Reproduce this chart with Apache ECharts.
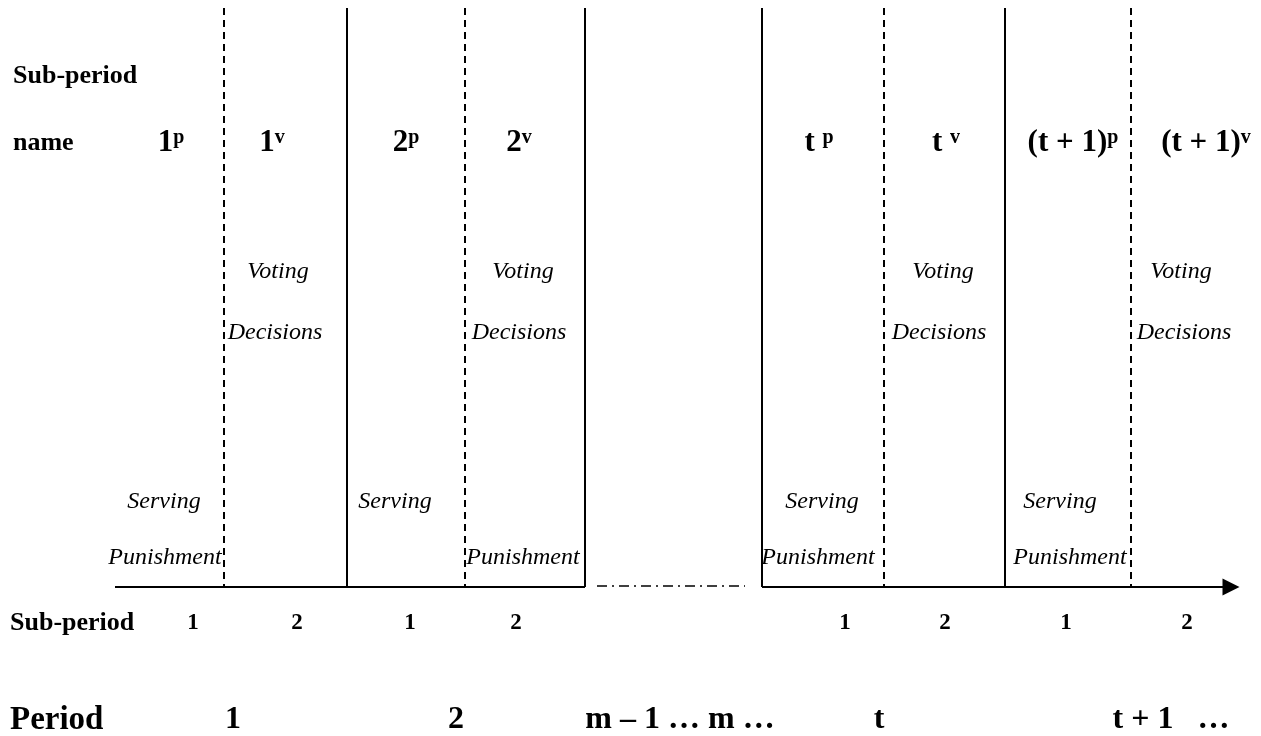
<!DOCTYPE html>
<html>
<head>
<meta charset="utf-8">
<script src="https://cdn.jsdelivr.net/npm/echarts@6/dist/echarts.min.js"></script>
<style>
html,body{margin:0;padding:0;background:#fff;}
#chart{width:1261px;height:736px;}
</style>
</head>
<body>
<div id="chart"></div>
<script>
// ---- diagram data (timeline units along x, rows along y) ----
const periodBoundaries = [347, 585, 762, 1005];        // solid lines: period boundaries
const subPeriodBoundaries = [224, 465, 884, 1131];     // dashed lines: sub-period boundaries
const timelineSolid = [[115, 585], [762, 1231]];       // solid parts of the time axis
const timelineGap = [597, 745];                        // dash-dot gap part
const lineTop = 8;
const axisLevel = 587;

const subPeriodNames = ['1|p', '1|v', '2|p', '2|v', 't |p', 't |v', '(t + 1)|p', '(t + 1)|v'];
const subPeriodNameX = [171, 272, 406, 519, 819, 946, 1073, 1206];

const votingX = [278, 523, 943, 1181];
const decisionsX = [275, 519, 939, 1184];
const servingX = [164, 395, 822, 1060];
const punishmentX = [165, 523, 818, 1070];

const subPeriodNumbers = ['1', '2', '1', '2', '1', '2', '1', '2'];
const subPeriodNumberX = [193, 297, 410, 516, 845, 945, 1066, 1187];

const periodLabels = ['1', '2', 'm \u2013 1 \u2026 m \u2026', 't', 't + 1   \u2026'];
const periodX = [233, 456, 680, 879, 1171];

const rowHeaders = [['Sub-period', 13, 76], ['name', 13, 143], ['Sub-period', 10, 623]];
const rowY = {names: 143, voting: 272, decisions: 333, serving: 502, punishment: 558, numbers: 623, periods: 720};

const FONT = '"Liberation Serif", "Times New Roman", serif';

function textSeries(items, labelStyle) {
  return {
    type: 'scatter',
    symbolSize: 1,
    itemStyle: {color: 'rgba(255,255,255,0)'},
    silent: true,
    z: 5,
    data: items.map(it => ({value: [it[1], it[2]], name: it[0]})),
    label: Object.assign({
      show: true,
      position: 'inside',
      color: '#000',
      opacity: 1,
      textBorderWidth: 0,
      fontFamily: FONT,
      formatter: p => p.name
    }, labelStyle)
  };
}

const chart = echarts.init(document.getElementById('chart'), null, {renderer: 'canvas'});

const option = {
  animation: false,
  backgroundColor: '#fff',
  grid: {left: 0, right: 0, top: 0, bottom: 0},
  xAxis: {type: 'value', min: 0, max: 1261, show: false},
  yAxis: {type: 'value', min: 0, max: 736, inverse: true, show: false},
  series: [
    {
      type: 'lines', coordinateSystem: 'cartesian2d', silent: true,
      data: periodBoundaries.map(x => ({coords: [[x, lineTop], [x, axisLevel]]})),
      lineStyle: {color: '#000', width: 2, type: 'solid', opacity: 1}
    },
    {
      type: 'lines', coordinateSystem: 'cartesian2d', silent: true,
      data: subPeriodBoundaries.map(x => ({coords: [[x, lineTop], [x, axisLevel]]})),
      lineStyle: {color: '#000', width: 2, type: [7, 5], opacity: 1}
    },
    {
      type: 'lines', coordinateSystem: 'cartesian2d', silent: true,
      data: [{coords: [[timelineSolid[0][0], axisLevel], [timelineSolid[0][1], axisLevel]]}],
      lineStyle: {color: '#000', width: 2, type: 'solid', opacity: 1}
    },
    {
      type: 'lines', coordinateSystem: 'cartesian2d', silent: true,
      symbol: ['none', 'triangle'], symbolSize: 17,
      data: [{coords: [[timelineSolid[1][0], axisLevel], [timelineSolid[1][1], axisLevel]]}],
      lineStyle: {color: '#000', width: 2, type: 'solid', opacity: 1}
    },
    {
      type: 'lines', coordinateSystem: 'cartesian2d', silent: true,
      data: [{coords: [[timelineGap[0], axisLevel - 1], [timelineGap[1], axisLevel - 1]]}],
      lineStyle: {color: '#000', width: 1.5, type: [10, 5, 2, 5], opacity: 1}
    },
    // row headers
    textSeries(rowHeaders.map(h => [h[0], h[1], h[2]]),
      {align: 'left', fontSize: 26, fontWeight: 'bold'}),
    textSeries([['Period', 10, rowY.periods]],
      {align: 'left', fontSize: 33, fontWeight: 'bold'}),
    // sub-period names with superscripts
    textSeries(subPeriodNames.map((n, i) => [n, subPeriodNameX[i], rowY.names]), {
      formatter: p => {
        const parts = p.name.split('|');
        return '{b|' + parts[0] + '}{s|' + parts[1] + '}';
      },
      rich: {
        b: {fontFamily: FONT, fontSize: 31, fontWeight: 'bold', lineHeight: 31, color: '#000'},
        s: {fontFamily: FONT, fontSize: 20, fontWeight: 'bold', lineHeight: 18, verticalAlign: 'top', color: '#000'}
      }
    }),
    // italic annotations
    textSeries(votingX.map(x => ['Voting', x, rowY.voting]), {fontSize: 24, fontStyle: 'italic'}),
    textSeries(decisionsX.map(x => ['Decisions', x, rowY.decisions]), {fontSize: 24, fontStyle: 'italic'}),
    textSeries(servingX.map(x => ['Serving', x, rowY.serving]), {fontSize: 24, fontStyle: 'italic'}),
    textSeries(punishmentX.map(x => ['Punishment', x, rowY.punishment]), {fontSize: 24, fontStyle: 'italic'}),
    // sub-period numbers
    textSeries(subPeriodNumbers.map((n, i) => [n, subPeriodNumberX[i], rowY.numbers]),
      {fontSize: 23, fontWeight: 'bold'}),
    // period labels
    textSeries(periodLabels.map((n, i) => [n, periodX[i], rowY.periods]),
      {fontSize: 32, fontWeight: 'bold'})
  ]
};
chart.setOption(option);
</script>
</body>
</html>
